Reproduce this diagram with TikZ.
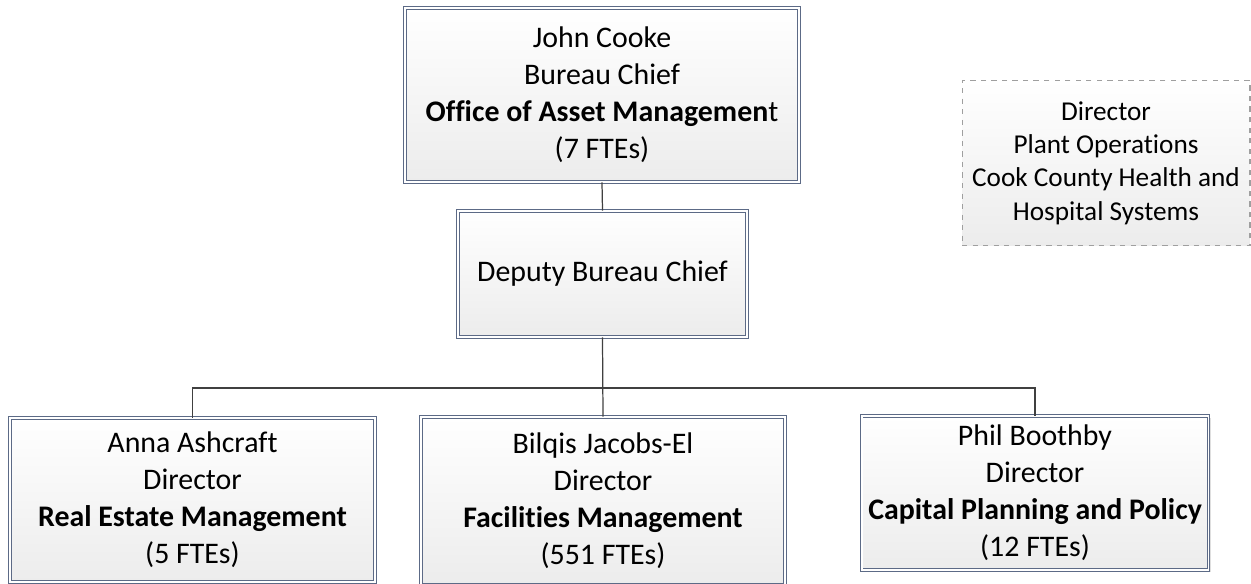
\documentclass[tikz,border=0pt]{standalone}
\usepackage{fontspec}
\setmainfont{Carlito}[Ligatures=NoCommon]
\usetikzlibrary{positioning}
\usetikzlibrary{shadows}
\definecolor{boxline}{RGB}{92,106,134}
\definecolor{boxfill}{RGB}{236,236,236}
\definecolor{linkline}{RGB}{64,64,64}

\begin{document}
\begin{tikzpicture}[x=0.02cm, y=-0.02cm,
  unit/.style={draw=boxline, line width=0.5pt, double=white, double distance=1.1pt,
    rectangle, top color=white, bottom color=boxfill, align=center, inner sep=0pt,
    font=\fontsize{17}{21}\selectfont,
    drop shadow={shadow xshift=1.2pt, shadow yshift=-1.2pt, opacity=0.25, fill=gray}},
  ext/.style={draw=gray!75, dashed, line width=0.6pt, rectangle, top color=white,
    bottom color=boxfill, align=center, inner sep=0pt, font=\fontsize{15.5}{19}\selectfont},
  link/.style={draw=linkline, line width=0.7pt}]
\useasboundingbox (0,0) rectangle (1251,583);
\node[unit, minimum width=7.88cm, minimum height=3.48cm] (off) at (602,95) {%
  John Cooke\\
  Bureau Chief\\
  \textbf{Office of Asset Managemen}t\\
  (7 FTEs)};
\node[unit, minimum width=5.78cm, minimum height=2.52cm] (dep) at (602.5,274) {Deputy Bureau Chief};
\node[unit, minimum width=7.3cm, minimum height=3.28cm] (rem) at (192.5,500) {%
  Anna Ashcraft\\
  Director\\
  \textbf{Real Estate Management}\\
  (5 FTEs)};
\node[unit, minimum width=7.28cm, minimum height=3.36cm] (fm) at (603,501) {%
  Bilqis Jacobs-El\\
  Director\\
  \textbf{Facilities Management}\\
  (551 FTEs)};
\node[unit, minimum width=6.94cm, minimum height=3.08cm] (cpp) at (1035,493) {%
  Phil Boothby\\
  Director\\
  \textbf{Capital Planning and Policy}\\
  (12 FTEs)};
\node[ext, minimum width=5.76cm, minimum height=3.3cm] (plant) at (1106,163) {%
  Director\\
  Plant Operations\\
  Cook County Health and\\
  Hospital Systems};
\coordinate (bus) at (602.5,388);
\draw[link] (off.south) -- (dep.north);
\draw[link] (dep.south) -- (fm.north);
\draw[link] (rem.north) |- (bus) -| (cpp.north);
\end{tikzpicture}
\end{document}
